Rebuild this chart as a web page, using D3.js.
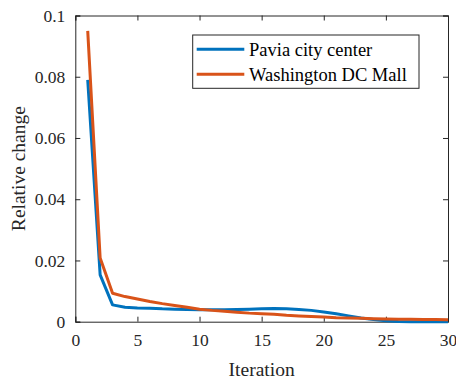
<!DOCTYPE html>
<html lang="en">
<head>
<meta charset="utf-8">
<title>Relative change</title>
<script src="https://cdn.jsdelivr.net/npm/d3@7"></script>
<style>
  body { margin: 0; background: #fff; }
  svg text { font-family: "Liberation Serif", "Times New Roman", serif !important; }
</style>
</head>
<body>
<div id="chart"></div>
<script>
// data
var iterations = d3.range(1, 31);
var pavia = [0.079, 0.0153, 0.0055, 0.0047, 0.0045, 0.0044, 0.0042, 0.0041, 0.0040, 0.0039,
             0.0039, 0.0039, 0.0040, 0.0041, 0.0042, 0.0043, 0.0042, 0.0040, 0.0037, 0.0032,
             0.0026, 0.0019, 0.0012, 0.0007, 0.0003, 0.0001, 0.0000, 0.0000, 0.0000, 0.0000];
var washington = [0.095, 0.0208, 0.0093, 0.0082, 0.0074, 0.0066, 0.0059, 0.0053, 0.0047, 0.0041,
                  0.0037, 0.0034, 0.0031, 0.0028, 0.0026, 0.0024, 0.0021, 0.0019, 0.0017, 0.0015,
                  0.0013, 0.0012, 0.0011, 0.0010, 0.0009, 0.0008, 0.0008, 0.0007, 0.0007, 0.0006];
var seriesNames = ["Pavia city center", "Washington DC Mall"];
var seriesColors = ["#0072BD", "#D95319"];
var xTicks = [0, 5, 10, 15, 20, 25, 30];
var yTicks = [0, 0.02, 0.04, 0.06, 0.08, 0.1];

var w = 456, h = 381;
var padL = 75.3, padR = 448, padT = 15.5, padB = 321.7;
var axisColor = "#262626";
var serif = "'Liberation Serif', 'Times New Roman', serif";

var svg = d3.select("#chart").append("svg").attr("width", w).attr("height", h)
  .attr("font-family", serif);

var xScale = d3.scaleLinear().domain([0, 30]).range([padL, padR]);
var yScale = d3.scaleLinear().domain([0, 0.1]).range([padB, padT]);

var tickLen = 5;

// axes, ticks pointing inward like matlab
var xAxis = d3.axisBottom(xScale).tickValues(xTicks).tickSize(-tickLen).tickPadding(12)
  .tickFormat(d3.format("d"));
var yAxis = d3.axisLeft(yScale).tickValues(yTicks).tickSize(-tickLen).tickPadding(10)
  .tickFormat(function(d) { return String(+d.toFixed(2)); });
var xTop = d3.axisTop(xScale).tickValues(xTicks).tickSize(-tickLen).tickFormat("");
var yRight = d3.axisRight(yScale).tickValues(yTicks).tickSize(-tickLen).tickFormat("");

var gx = svg.append("g").attr("transform", "translate(0," + padB + ")").call(xAxis);
var gy = svg.append("g").attr("transform", "translate(" + padL + ",0)").call(yAxis);
var gt = svg.append("g").attr("transform", "translate(0," + padT + ")").call(xTop);
var gr = svg.append("g").attr("transform", "translate(" + padR + ",0)").call(yRight);

[gx, gy, gt, gr].forEach(function(g) {
  g.attr("font-family", serif).attr("font-size", 17.5);
  g.select(".domain").attr("stroke", axisColor).attr("stroke-width", 1);
  g.selectAll(".tick line").attr("stroke", axisColor).attr("stroke-width", 1);
  g.selectAll(".tick text").attr("fill", axisColor);
});
gx.selectAll(".tick text").attr("dy", "0.71em");

// lines
var line = d3.line()
  .x(function(d, i) { return xScale(iterations[i]); })
  .y(function(d) { return yScale(d); });

[pavia, washington].forEach(function(s, i) {
  svg.append("path")
    .datum(s)
    .attr("d", line)
    .attr("fill", "none")
    .attr("stroke", seriesColors[i])
    .attr("stroke-width", 3)
    .attr("stroke-linejoin", "round");
});

// axis labels
svg.append("text")
  .attr("x", (padL + padR) / 2)
  .attr("y", 376)
  .attr("text-anchor", "middle")
  .attr("font-size", 19.5)
  .attr("fill", axisColor)
  .text("Iteration");

svg.append("text")
  .attr("transform", "translate(25," + ((padT + padB) / 2) + ") rotate(-90)")
  .attr("text-anchor", "middle")
  .attr("font-size", 19.5)
  .attr("fill", axisColor)
  .text("Relative change");

// legend
var legend = svg.append("g");
legend.append("rect")
  .attr("x", 192.7).attr("y", 35)
  .attr("width", 226.3).attr("height", 53.3)
  .attr("fill", "#fff")
  .attr("stroke", axisColor)
  .attr("stroke-width", 1);

seriesNames.forEach(function(name, i) {
  var ly = 49.3 + i * 25;
  legend.append("line")
    .attr("x1", 196.7).attr("x2", 244.3)
    .attr("y1", ly).attr("y2", ly)
    .attr("stroke", seriesColors[i])
    .attr("stroke-width", 3);
  legend.append("text")
    .attr("x", 249)
    .attr("y", ly)
    .attr("dy", "0.35em")
    .attr("font-size", 18.5)
    .attr("fill", "#000")
    .text(name);
});
</script>
</body>
</html>
